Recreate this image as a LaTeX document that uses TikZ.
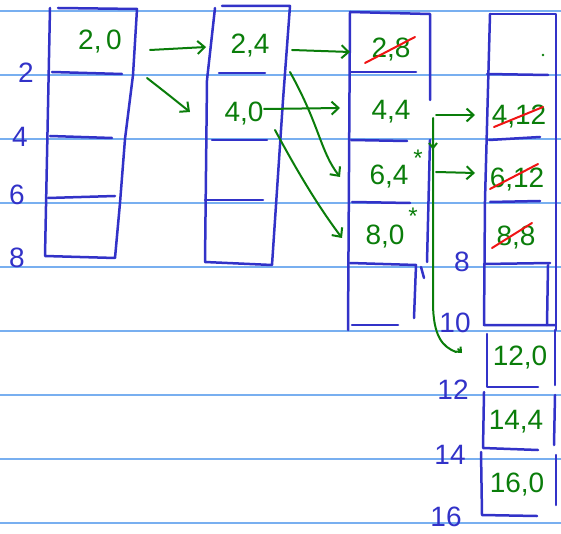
\documentclass[tikz,border=0pt]{standalone}
\usepackage{fontspec}
\setmainfont{Liberation Sans}
\usetikzlibrary{arrows.meta,decorations.markings}
\definecolor{rule}{RGB}{120,175,240}
\definecolor{ink}{RGB}{50,50,200}
\definecolor{pen}{RGB}{10,125,10}
\definecolor{strike}{RGB}{240,20,20}
\tikzset{
  rulel/.style={draw=rule,line width=1.3pt},
  box/.style={draw=ink,line width=2.5pt,line cap=round,line join=round},
  val/.style={text=pen,font=\fontsize{28}{30}\selectfont,inner sep=0pt},
  num/.style={text=ink,font=\fontsize{28}{30}\selectfont,inner sep=0pt},
  arr/.style={draw=pen,line width=2pt,line cap=round,-{Straight Barb[length=7pt,width=13pt,line width=2pt]}},
  gline/.style={draw=pen,line width=2pt,line cap=round},
  xout/.style={draw=strike,line width=2pt,line cap=round},
}
\begin{document}
\begin{tikzpicture}[x=1pt,y=-1pt]
\useasboundingbox[fill=white] (0,0) rectangle (561,534);
% ruled lines
\foreach \yy in {11,75,139,203,267,331,395,459,523}
  \draw[rulel] (0,\yy) -- (561,\yy);
% column 1
\draw[box] (58,8) -- (137,9) -- (133,75) -- (125,139) -- (120,203) -- (115,258) -- (45,256) -- (50,8);
\draw[box] (52,72) -- (122,74);
\draw[box] (50,136) -- (112,138);
\draw[box] (48,198) -- (115,196);
% column 2
\draw[box] (222,6) -- (290,6) -- (283,100) -- (272,265) -- (205,262) -- (207,80) -- (215,8);
\draw[box] (219,73) -- (265,73);
\draw[box] (212,140) -- (267,140);
\draw[box] (205,200) -- (263,200);
% column 3
\draw[box] (350,12) -- (430,14) -- (430,100);
\draw[box] (430,140) -- (427,262);
\draw[box] (350,12) -- (348,330);
\draw[box] (351,72) -- (416,72);
\draw[box] (351,140) -- (407,141);
\draw[box] (352,202) -- (410,203);
\draw[box] (350,263) -- (416,265) -- (414,318);
\draw[box] (352,325) -- (398,325);
\draw[box] (421,267) -- (424,278);
% column 4
\draw[box] (490,14) -- (556,14) -- (556,330);
\draw[box] (490,14) -- (485,200) -- (484,325) -- (555,325);
\draw[box] (487,74) -- (548,75);
\draw[box] (489,140) -- (540,137);
\draw[box] (490,202) -- (540,201);
\draw[box] (484,264) -- (550,263);
\draw[box] (548,265) -- (547,325);
% extension
\draw[box] (487,334) -- (487,387) -- (538,387);
\draw[box] (555,330) -- (555,385);
\draw[box] (484,392) -- (483,448) -- (538,450);
\draw[box] (555,395) -- (554,445);
\draw[box] (481,452) -- (482,515) -- (537,516);
\draw[box] (556,455) -- (556,505);
% row labels
\node[num] (l2) at (26,73) {2};
\node[num] (l4) at (20,137) {4};
\node[num] (l6) at (17,195) {6};
\node[num] (l8) at (17,258) {8};
\node[num] (r8) at (462,262) {8};
\node[num] (r10) at (455,323) {10};
\node[num] (r12) at (453,390) {12};
\node[num] (r14) at (450,455) {14};
\node[num] (r16) at (446,517) {16};
% values
\node[val] (a20) at (100,42) {2,\,0};
\node[val] (b24) at (250,46) {2,4};
\node[val] (b40) at (244,114) {4,0};
\node[val] (c28) at (391,50) {2,8};
\node[val] (c44) at (391,112) {4,4};
\node[val] (c64) at (389,177) {6,4};
\node[val] (c80) at (385,237) {8,0};
\node[val] (d412) at (519,117) {4,12};
\node[val] (d612) at (517,180) {6,12};
\node[val] (d88) at (516,238) {8,8};
\node[val] (d120) at (520,358) {12,0};
\node[val] (d144) at (516,422) {14,4};
\node[val] (d160) at (517,485) {16,0};
\node[text=pen,font=\fontsize{24}{24}\selectfont,inner sep=0pt] (s1) at (418,158) {*};
\node[text=pen,font=\fontsize{24}{24}\selectfont,inner sep=0pt] (s2) at (413,216) {*};
\fill[pen] (543,55) circle (1.4);
% strikes
\draw[xout] ([shift={(-26,13)}]c28.center) -- ([shift={(24,-13)}]c28.center);
\draw[xout] ([shift={(-25,10)}]d412.center) -- ([shift={(24,-10)}]d412.center);
\draw[xout] ([shift={(-27,9)}]d612.center) -- ([shift={(21,-16)}]d612.center);
\draw[xout] ([shift={(-24,10)}]d88.center) -- ([shift={(16,-15)}]d88.center);
% arrows
\draw[arr] ([shift={(50,8)}]a20.center) -- ([shift={(-44,1)}]b24.center);
\draw[arr] ([shift={(47,36)}]a20.center) .. controls ([shift={(65,50)}]a20.center) .. ([shift={(-54,-2)}]b40.center);
\draw[arr] ([shift={(42,4)}]b24.center) -- ([shift={(-41,2)}]c28.center);
\draw[arr] ([shift={(40,26)}]b24.center) .. controls ([shift={(70,80)}]b24.center) and ([shift={(70,105)}]b24.center) .. ([shift={(-49,0)}]c64.center);
\draw[arr] ([shift={(20,-5)}]b40.center) -- ([shift={(-51,-4)}]c44.center);
\draw[arr] ([shift={(31,16)}]b40.center) .. controls ([shift={(60,70)}]b40.center) and ([shift={(80,100)}]b40.center) .. ([shift={(-43,1)}]c80.center);
\draw[arr] ([shift={(45,3)}]c44.center) -- ([shift={(-44,-2)}]d412.center);
\draw[arr] ([shift={(47,-5)}]c64.center) -- ([shift={(-42,-7)}]d612.center);
\draw[gline,decoration={markings,mark=at position 0.13 with {\arrow{Straight Barb[length=5pt,width=8pt]}}},postaction={decorate}] ([shift={(42,6)}]c44.center) -- ([shift={(42,190)}]c44.center) .. controls ([shift={(42,225)}]c44.center) and ([shift={(52,235)}]c44.center) .. ([shift={(65,240)}]c44.center);
\draw[gline,-{Straight Barb[length=4pt,width=7pt]}] ([shift={(-62,-9)}]d120.center) -- ([shift={(-58,-5)}]d120.center);
\end{tikzpicture}
\end{document}
